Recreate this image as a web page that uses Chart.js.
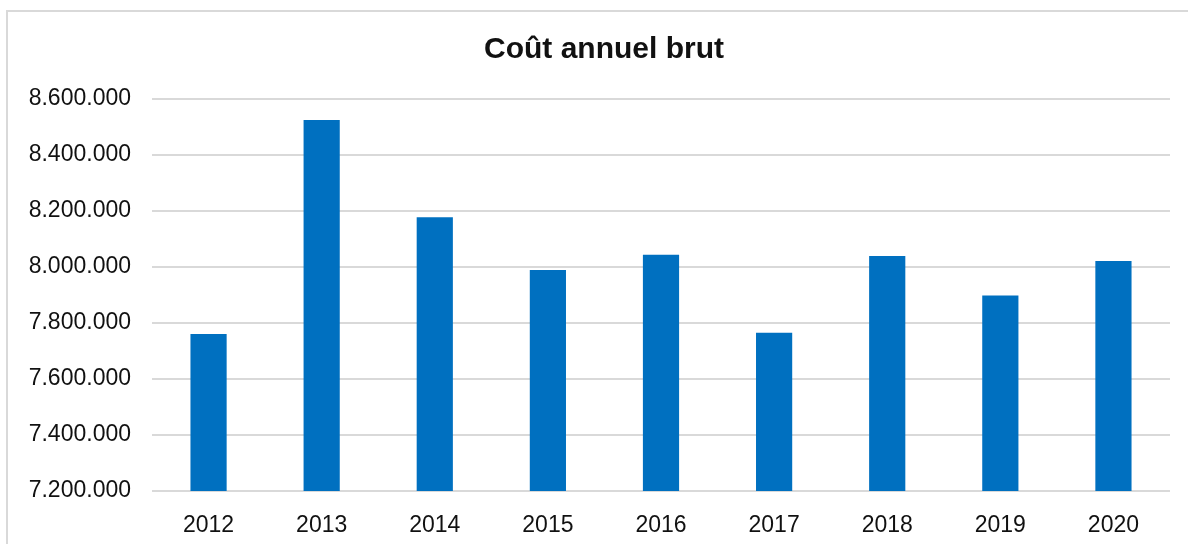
<!DOCTYPE html>
<html>
<head>
<meta charset="utf-8">
<script src="https://cdn.jsdelivr.net/npm/chart.js@4"></script>
<style>
  html, body { margin: 0; padding: 0; background: #fff; }
  #wrap { position: relative; width: 1188px; height: 544px; overflow: hidden; }
  #frame { position: absolute; left: 6px; top: 10px; width: 1200px; height: 600px;
           border-left: 2px solid #d9d9d9; border-top: 2px solid #d9d9d9; }
  #myChart { position: absolute; left: 0; top: 0; }
</style>
</head>
<body>
<div id="wrap">
  <div id="frame"></div>
  <canvas id="myChart" width="1188" height="544"></canvas>
</div>
<script>
// coût annuel brut par année
var Title = 'Coût annuel brut';
var Years = ['2012', '2013', '2014', '2015', '2016', '2017', '2018', '2019', '2020'];
var Cost = [7761000, 8525000, 8178000, 7989000, 8044000, 7765000, 8039000, 7898000, 8021000];
var yMin = 7200000, yMax = 8600000, yStep = 200000;

function dots(v) {
  return String(v).replace(/\B(?=(\d{3})+(?!\d))/g, '.');
}

// title is centred on the whole frame, not on the plot area
var framedTitle = {
  id: 'framedTitle',
  afterDraw: function (chart) {
    var c = chart.ctx;
    c.save();
    c.font = 'bold 30px "Liberation Sans", Arial, sans-serif';
    c.fillStyle = '#111';
    c.textAlign = 'center';
    c.textBaseline = 'middle';
    c.fillText(Title, 604, 50);
    c.restore();
  }
};

var ctx = document.getElementById('myChart').getContext('2d');
var myChart = new Chart(ctx, {
  type: 'bar',
  data: {
    labels: Years,
    datasets: [{
      label: Title,
      data: Cost,
      backgroundColor: '#0070C0',
      borderWidth: 0,
      categoryPercentage: 1,
      barPercentage: 0.32
    }]
  },
  options: {
    responsive: false,
    animation: false,
    layout: { padding: { top: 99, right: 18, bottom: 12, left: 0 } },
    plugins: {
      legend: { display: false },
      tooltip: { enabled: false },
      title: { display: false }
    },
    scales: {
      x: {
        grid: { display: false },
        border: { display: false },
        ticks: {
          color: '#111',
          padding: 13,
          font: { family: 'Liberation Sans, Arial, sans-serif', size: 23 }
        },
        afterFit: function (scale) { scale.height = 41; }
      },
      y: {
        min: yMin,
        max: yMax,
        grid: { color: '#d9d9d9', lineWidth: 2, drawTicks: false },
        border: { display: false },
        ticks: {
          stepSize: yStep,
          color: '#111',
          padding: 21,
          font: { family: 'Liberation Sans, Arial, sans-serif', size: 23 },
          callback: function (v) { return dots(v); }
        },
        afterFit: function (scale) { scale.width = 152; }
      }
    }
  },
  plugins: [framedTitle]
});
</script>
</body>
</html>
